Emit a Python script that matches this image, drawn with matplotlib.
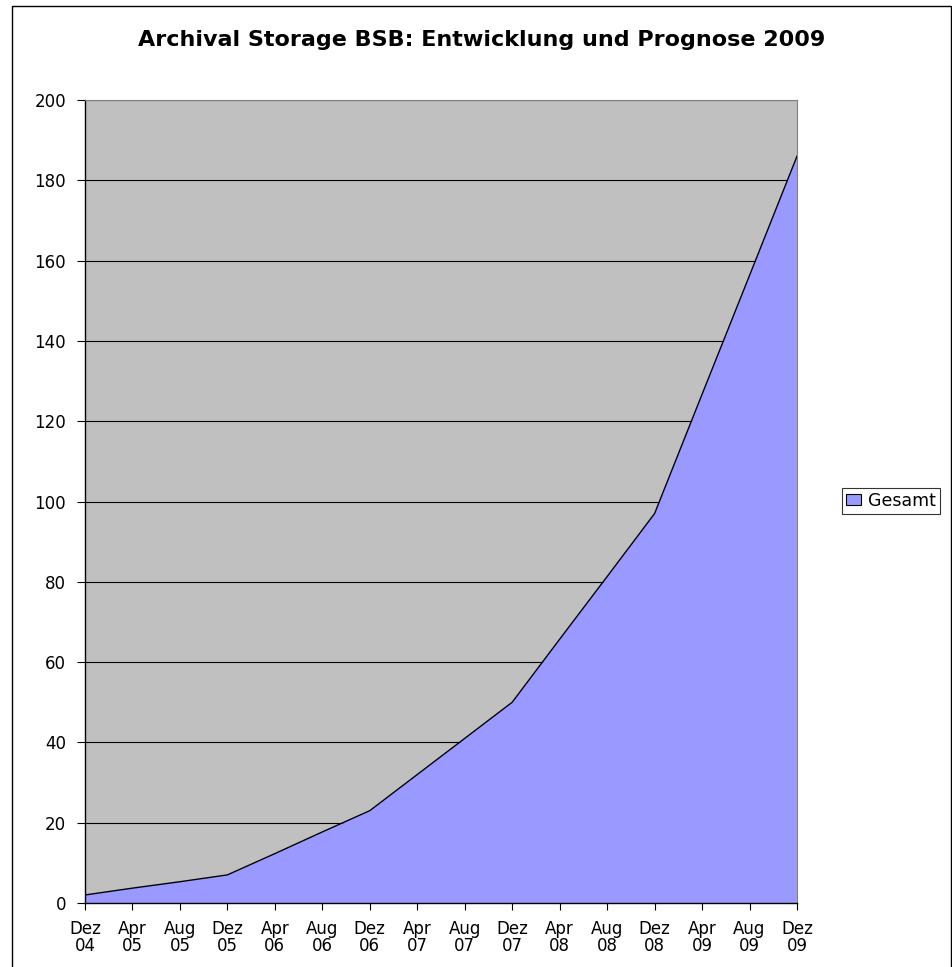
import numpy as np
import matplotlib.pyplot as plt
from matplotlib.patches import Rectangle

plt.rcParams['font.family'] = ['DejaVu Sans']

monate = ['Dez\n04', 'Apr\n05', 'Aug\n05', 'Dez\n05', 'Apr\n06', 'Aug\n06', 'Dez\n06',
          'Apr\n07', 'Aug\n07', 'Dez\n07', 'Apr\n08', 'Aug\n08', 'Dez\n08',
          'Apr\n09', 'Aug\n09', 'Dez\n09']
gesamt = [2, 3.7, 5.3, 7, 12.3, 17.7, 23, 32, 41, 50, 65.7, 81.3, 97, 126.7, 156.3, 186]

x = np.arange(len(monate))

fig = plt.figure(figsize=(9.53, 9.67), dpi=100)
ax = fig.add_axes([85/953, 1-903/967, (797-85)/953, (903-100)/967])

ax.set_facecolor('#C0C0C0')
ax.fill_between(x, gesamt, 0, color='#9999FF', linewidth=0, zorder=2, label='Gesamt')
ax.plot(x, gesamt, color='black', linewidth=1, zorder=3)

ax.set_xlim(0, len(monate) - 1)
ax.set_ylim(0, 200)
ax.set_yticks(np.arange(0, 201, 20))
ax.set_xticks(x)
ax.set_xticklabels(monate, fontsize=12, linespacing=0.95)
ax.tick_params(axis='y', labelsize=12, length=5.5, direction='out', width=0.8, pad=8)
ax.tick_params(axis='x', length=5, direction='out', width=0.8, pad=7)
ax.yaxis.grid(True, color='black', linewidth=0.8, zorder=1)
ax.set_axisbelow(True)
for s in ['top', 'right']:
    ax.spines[s].set_color('#808080')
ax.spines['left'].set_linewidth(1)
ax.spines['bottom'].set_linewidth(1)

fig.text(482/953, 1-40/967, 'Archival Storage BSB: Entwicklung und Prognose 2009',
         ha='center', va='center', fontsize=16, fontweight='bold')

leg = fig.legend(loc='center', bbox_to_anchor=(891/953, 1-501/967), fontsize=12.5,
                 frameon=True, fancybox=False, edgecolor='black', borderpad=0.25,
                 handlelength=0.85, handleheight=0.6, handletextpad=0.4,
                 borderaxespad=0)
leg.get_frame().set_linewidth(0.8)
leg.legend_handles[0].set_edgecolor('black')
leg.legend_handles[0].set_linewidth(0.8)

# Rahmen um das Diagramm
fig.patches.append(Rectangle((12/953, -0.01), (951-12)/953, 1-6/967 + 0.01,
                             transform=fig.transFigure, fill=False,
                             edgecolor='black', linewidth=1))

fig.savefig('out.png', dpi=100)
